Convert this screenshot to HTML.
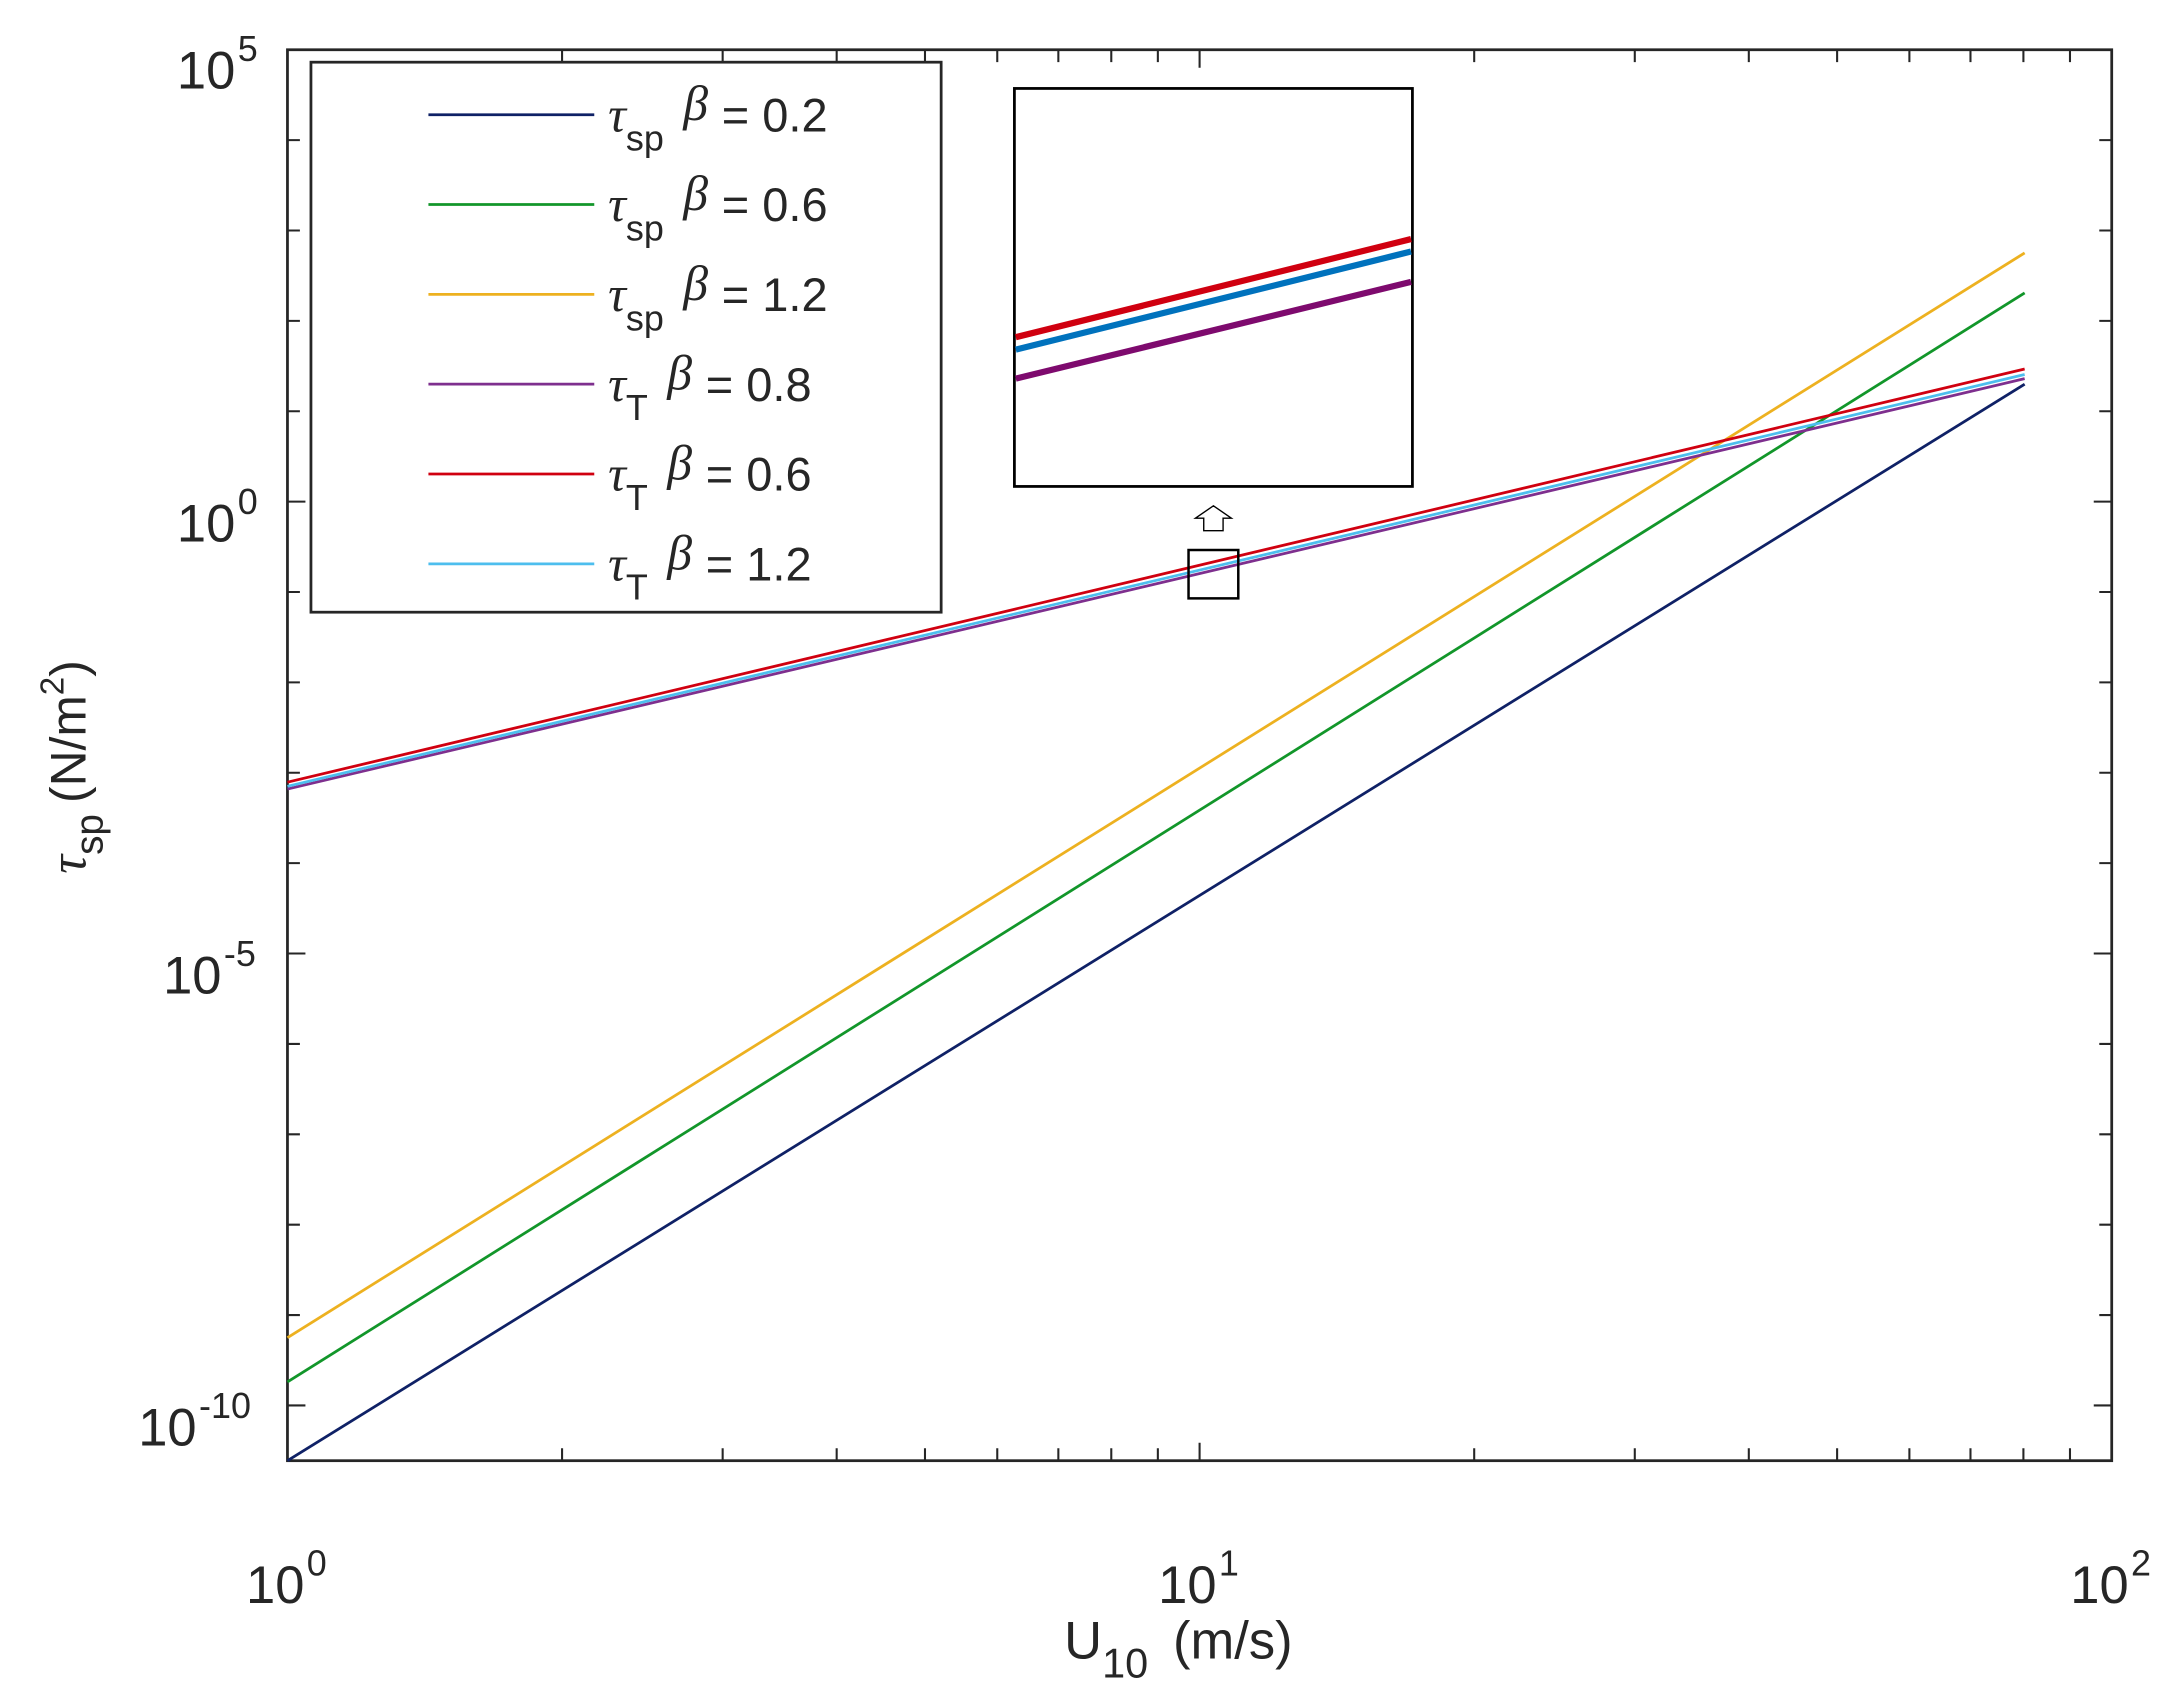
<!DOCTYPE html>
<html><head><meta charset="utf-8"><style>
html,body{margin:0;padding:0;background:#fff}
svg{display:block}
text{font-family:"Liberation Sans",sans-serif;fill:#262626}
.t{font-family:"Liberation Serif",serif;font-style:italic}
</style></head><body>
<svg width="2167" height="1697" viewBox="0 0 1568 1228" preserveAspectRatio="none" xmlns="http://www.w3.org/2000/svg">
<rect width="1568" height="1228" fill="#fff"/>
<g stroke="#262626" stroke-width="2" fill="none">
<rect x="208" y="36" width="1320" height="1021"/>
</g>
<g stroke="#262626" stroke-width="1.5">
<path d="M208 36h13M1528 36h-13M208 101.4h9M1528 101.4h-9M208 166.8h9M1528 166.8h-9M208 232.2h9M1528 232.2h-9M208 297.6h9M1528 297.6h-9M208 363h13M1528 363h-13M208 428.4h9M1528 428.4h-9M208 493.8h9M1528 493.8h-9M208 559.2h9M1528 559.2h-9M208 624.6h9M1528 624.6h-9M208 690h13M1528 690h-13M208 755.4h9M1528 755.4h-9M208 820.8h9M1528 820.8h-9M208 886.2h9M1528 886.2h-9M208 951.6h9M1528 951.6h-9M208 1017h13M1528 1017h-13"/>
<path d="M406.7 1057v-9M522.9 1057v-9M605.4 1057v-9M669.3 1057v-9M721.6 1057v-9M765.8 1057v-9M804.1 1057v-9M837.8 1057v-9M868 1057v-13M1066.7 1057v-9M1182.9 1057v-9M1265.4 1057v-9M1329.3 1057v-9M1381.6 1057v-9M1425.8 1057v-9M1464.1 1057v-9M1497.8 1057v-9"/>
<path d="M406.7 36v9M522.9 36v9M605.4 36v9M669.3 36v9M721.6 36v9M765.8 36v9M804.1 36v9M837.8 36v9M868 36v13M1066.7 36v9M1182.9 36v9M1265.4 36v9M1329.3 36v9M1381.6 36v9M1425.8 36v9M1464.1 36v9M1497.8 36v9"/>
</g>
<g stroke-width="2" fill="none">
<line x1="208" y1="1057" x2="1465" y2="278" stroke="#0f2166"/>
<line x1="208" y1="1000" x2="1465" y2="212" stroke="#12962a"/>
<line x1="208" y1="968" x2="1465" y2="183" stroke="#edb120"/>
<line x1="208" y1="571" x2="1465" y2="274" stroke="#7e2f8e"/>
<line x1="208" y1="566" x2="1465" y2="267" stroke="#d00010"/>
<line x1="208" y1="569" x2="1465" y2="271" stroke="#4dbeee"/>
</g>
<rect x="225" y="45" width="456" height="398" fill="#fff" stroke="#262626" stroke-width="2"/>
<g stroke-width="2">
<line x1="310" y1="83" x2="430" y2="83" stroke="#0f2166"/>
<line x1="310" y1="148" x2="430" y2="148" stroke="#12962a"/>
<line x1="310" y1="213" x2="430" y2="213" stroke="#edb120"/>
<line x1="310" y1="278" x2="430" y2="278" stroke="#7e2f8e"/>
<line x1="310" y1="343" x2="430" y2="343" stroke="#d00010"/>
<line x1="310" y1="408" x2="430" y2="408" stroke="#4dbeee"/>
</g>
<g font-size="34" fill="#000">
<text x="440" y="95"><tspan class="t" font-size="36">τ</tspan><tspan font-size="26" dy="14">sp</tspan><tspan class="t" dx="14" dy="-22" font-size="36">β</tspan><tspan dx="10" dy="8">= 0.2</tspan></text>
<text x="440" y="160"><tspan class="t" font-size="36">τ</tspan><tspan font-size="26" dy="14">sp</tspan><tspan class="t" dx="14" dy="-22" font-size="36">β</tspan><tspan dx="10" dy="8">= 0.6</tspan></text>
<text x="440" y="225"><tspan class="t" font-size="36">τ</tspan><tspan font-size="26" dy="14">sp</tspan><tspan class="t" dx="14" dy="-22" font-size="36">β</tspan><tspan dx="10" dy="8">= 1.2</tspan></text>
<text x="440" y="290"><tspan class="t" font-size="36">τ</tspan><tspan font-size="26" dy="14">T</tspan><tspan class="t" dx="14" dy="-22" font-size="36">β</tspan><tspan dx="10" dy="8">= 0.8</tspan></text>
<text x="440" y="355"><tspan class="t" font-size="36">τ</tspan><tspan font-size="26" dy="14">T</tspan><tspan class="t" dx="14" dy="-22" font-size="36">β</tspan><tspan dx="10" dy="8">= 0.6</tspan></text>
<text x="440" y="420"><tspan class="t" font-size="36">τ</tspan><tspan font-size="26" dy="14">T</tspan><tspan class="t" dx="14" dy="-22" font-size="36">β</tspan><tspan dx="10" dy="8">= 1.2</tspan></text>
</g>
<rect x="734" y="64" width="288" height="288" fill="#fff" stroke="#000" stroke-width="2"/>
<g stroke-width="4.5">
<line x1="735" y1="244" x2="1021" y2="173" stroke="#d00010"/>
<line x1="735" y1="253" x2="1021" y2="182" stroke="#0072bd"/>
<line x1="735" y1="274" x2="1021" y2="204" stroke="#7e0a6e"/>
</g>
<rect x="860" y="398" width="36" height="35" fill="none" stroke="#000" stroke-width="1.8"/>
<polygon points="878,366 891,375 885,375 885,384 871,384 871,375 865,375" fill="#fff" stroke="#000" stroke-width="1"/>
<g font-size="38">
<text x="128" y="64">10</text><text x="172" y="44" font-size="26">5</text>
<text x="128" y="392">10</text><text x="172" y="372" font-size="26">0</text>
<text x="118" y="719">10</text><text x="162" y="699" font-size="26">-5</text>
<text x="100" y="1046">10</text><text x="144" y="1026" font-size="26">-10</text>
</g>
<g font-size="38">
<text x="178" y="1160">10</text><text x="222" y="1140" font-size="26">0</text>
<text x="838" y="1160">10</text><text x="882" y="1140" font-size="26">1</text>
<text x="1498" y="1160">10</text><text x="1542" y="1140" font-size="26">2</text>
</g>
<text x="770" y="1200" font-size="38">U<tspan font-size="30" dy="14">10</tspan><tspan dx="18" dy="-14">(m/s)</tspan></text>
<text transform="translate(62,555) rotate(-90)" text-anchor="middle" font-size="36"><tspan class="t" font-size="38">τ</tspan><tspan font-size="28" dy="12">sp</tspan><tspan dx="8" dy="-12">(N/m</tspan><tspan font-size="24" dy="-16">2</tspan><tspan dy="16">)</tspan></text>
</svg>
</body></html>
